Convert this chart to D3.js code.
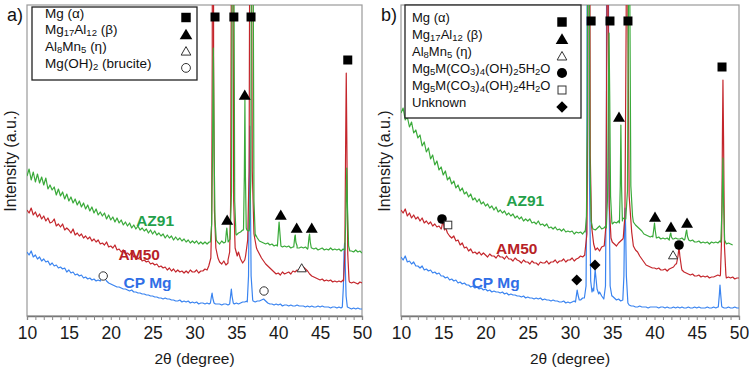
<!DOCTYPE html>
<html><head><meta charset="utf-8">
<script src="https://cdn.jsdelivr.net/npm/d3@7"></script>
<style>
body{margin:0;background:#fff}
text{font-family:"Liberation Sans",Arial,sans-serif}
</style>
</head><body>
<svg id="c" width="749" height="373"></svg>
<script>
// ---------------- DATA ----------------
const xTicks = d3.range(10, 51, 1);
const xTickLabels = [10, 15, 20, 25, 30, 35, 40, 45, 50];
const xStart = 10, xStep = 0.25;   // baseline sampling of the patterns (2θ)
const seriesNames = ["AZ91", "AM50", "CP Mg"];

// ---- panel a) baselines (intensity a.u., 2θ = 10..50 every 0.25) ----
const azA = [
140,147,136,144, 134,142,133,139, 131,138,127,131, 126,129,121,127, 120,124,117,122,
115,119,113,117, 111,115,109,113, 107,111,105,109, 103,107,101,104, 100,103,97,101,
96,99,94,98, 93,96,91,94, 90,93,88,91, 87,90,86,88, 85,87,83,86,
82,85,81,83, 80,82,78,81, 78,80,76,79, 76,78,75,77, 74,76,73,75,
73,75,72,74, 72,74,72,74, 76,80,77,74, 72,75,73,75, 74,77,81,83,
81,83,84,86, 88,86,85,87, 84,80,78,75, 74,73,72,73, 71,72,70,71,
70,71,69,70, 69,70,68,69, 69,70,68,69, 68,69,67,69, 68,67,68,66,
67,68,66,67, 66,68,66,67, 66,67,65,67, 66,68,66,65, 64,66,64,65, 63];
const amA = [
106,103,108,101, 104,99,102,97, 100,95,98,93, 94,97,90,92, 89,92,86,88,
86,83,87,81, 83,80,82,78, 80,77,79,75, 77,74,76,72, 73,71,74,69,
70,68,71,66, 67,64,66,62, 63,61,64,59, 60,57,59,55, 56,54,55,52,
53,51,52,49, 50,48,49,46, 48,45,47,44, 46,44,45,43, 45,43,46,44,
44,46,43,45, 45,47,46,50, 58,60,58,55, 54,52,55,51, 53,56,60,62,
60,64,57,53, 56,62,68,72, 76,69,66,62, 58,55,52,50, 48,46,44,42,
43,41,44,42, 43,44,42,45, 44,46,45,47, 49,47,45,42, 40,39,38,37,
36,37,35,36, 35,36,34,35, 34,35,34,36, 36,35,34,33, 34,33,32,34, 33];
const cpA = [
64,61,65,59, 61,57,59,55, 57,54,55,51, 53,50,51,48, 49,47,48,44,
46,43,44,41, 42,40,41,38, 39,37,38,36, 37,35,36,35, 40,38,35,33,
32,31,30,29, 29,28,27,27, 26,25,26,24, 24,23,23,22, 22,21,21,20,
20,19,19,18, 18,17,18,17, 17,16,16,15, 15,16,14,15, 14,15,13,14,
13,14,12,13, 13,12,13,12, 13,13,12,12, 12,11,12,12, 11,12,13,12,
13,12,13,14, 14,15,14,16, 15,14,15,15, 16,17,15,13, 12,12,11,12,
11,12,10,11, 11,10,11,10, 10,11,10,10, 10,9,10,9, 10,9,9,10,
9,10,9,9, 9,8,9,9, 8,9,8,8, 8,9,8,7, 8,7,8,7, 7];

// ---- panel a) diffraction peaks [2θ, intensity] ----
const azA_peaks = [
 [[31.9,74],[32.05,92],[32.15,160],[32.25,268],[32.35,160],[32.45,96],[32.6,76]],
 [[33.7,74],[33.8,84],[33.86,88],[33.92,82],[34.02,74]],
 [[34.25,78],[34.42,125],[34.52,420],[34.6,1400],[34.68,420],[34.8,115],[34.95,82]],
 [[35.85,86],[35.95,140],[36.02,216],[36.08,140],[36.18,88]],
 [[36.55,86],[36.72,135],[36.82,420],[36.9,1400],[36.98,420],[37.1,115],[37.25,82]],
 [[39.9,70],[40.03,86],[40.1,94],[40.18,85],[40.32,70]],
 [[41.85,69],[41.97,79],[42.03,81],[42.1,74],[42.25,68]],
 [[43.55,68],[43.67,79],[43.74,82],[43.82,74],[43.95,68]],
 [[47.95,66],[48.08,100],[48.18,148],[48.27,108],[48.4,70],[48.55,65]]
];
const amA_peaks = [
 [[31.7,50],[31.95,58],[32.05,95],[32.12,260],[32.2,1400],[32.28,260],[32.38,105],[32.55,68],[32.8,58]],
 [[34.0,56],[34.2,64],[34.32,115],[34.42,420],[34.5,1400],[34.58,420],[34.68,115],[34.85,68],[35.1,60]],
 [[36.1,60],[36.35,76],[36.52,145],[36.62,450],[36.7,1400],[36.78,450],[36.9,145],[37.1,82],[37.4,68]],
 [[47.8,35],[47.95,62],[48.04,165],[48.12,243],[48.2,165],[48.3,62],[48.45,36]]
];
const cpA_peaks = [
 [[31.9,13],[32.03,20],[32.1,23],[32.18,18],[32.33,13]],
 [[34.2,12],[34.33,22],[34.4,27],[34.48,20],[34.63,13]],
 [[36.3,14],[36.45,40],[36.53,125],[36.6,190],[36.67,125],[36.76,40],[36.95,16]],
 [[47.65,9],[47.78,30],[47.86,65],[47.92,73],[47.99,55],[48.1,20],[48.25,9]]
];

// ---- panel b) baselines ----
const azB = [
203,208,196,199, 189,194,183,186, 178,181,170,174, 164,168,157,161, 151,155,146,149,
141,145,136,139, 132,135,128,131, 125,128,122,124, 119,122,116,118, 114,117,112,114,
110,112,108,110, 106,109,104,106, 103,105,101,103, 100,102,98,100, 97,99,95,97,
95,97,93,94, 92,95,91,92, 90,92,88,89, 87,89,86,87, 85,87,84,85,
84,85,82,84, 83,84,82,85, 88,86,85,87, 86,88,90,87, 88,90,92,93,
92,94,93,95, 96,98,97,99, 100,97,94,91, 89,87,85,82, 81,80,79,80,
79,78,79,77, 78,77,78,76, 78,77,78,77, 77,78,76,77, 76,75,76,74,
74,75,73,74, 73,74,72,74, 73,74,73,75, 74,73,72,73, 72,71,null,null, null];
const amB = [
106,103,107,100, 103,98,101,97, 99,95,98,93, 95,92,94,90, 92,89,90,87,
86,89,83,80, 78,80,75,76, 71,73,68,69, 65,67,63,64, 62,64,61,63,
61,59,62,60, 60,58,61,59, 59,57,60,57, 57,55,58,56, 55,53,56,54,
54,52,55,53, 53,51,54,53, 53,55,52,54, 54,56,53,55, 55,57,54,56,
56,58,55,57, 58,60,59,61, 70,76,72,68, 66,68,65,69, 70,72,74,76,
74,72,70,73, 75,77,80,84, 82,76,70,66, 64,60,57,54, 51,50,49,48,
48,47,48,46, 46,47,45,47, 48,49,52,54, 50,46,44,43, 42,41,42,40,
40,41,39,40, 39,40,38,39, 39,40,41,40, 40,39,38,39, 38,39,37,38, 38];
const cpB = [
59,56,60,54, 55,52,54,50, 50,48,50,46, 47,45,46,43, 44,42,43,40,
40,38,39,36, 37,35,36,33, 34,32,33,31, 31,29,30,28, 29,27,28,26,
27,25,26,24, 25,24,24,23, 24,22,23,21, 22,21,21,20, 20,19,20,18,
19,18,18,17, 18,17,18,16, 17,16,16,15, 16,15,15,14, 14,15,13,14,
13,14,15,20, 17,16,18,22, 30,28,26,28, 40,30,24,20, 17,18,22,25,
20,18,16,17, 15,16,20,40, 11,10,10,9, 9,10,9,9, 9,8,9,9,
9,9,8,9, 9,8,9,8, 8,9,8,9, 8,9,8,8, 9,8,8,9,
8,9,8,8, 8,9,8,8, 9,8,9,10, 9,8,8,9, 8,8,9,8, 8];

// ---- panel b) diffraction peaks ----
const azB_peaks = [
 [[31.8,84],[31.95,100],[32.05,200],[32.12,500],[32.18,1400],[32.25,500],[32.35,160],[32.5,95],[32.7,87]],
 [[34.3,88],[34.45,120],[34.55,230],[34.62,283],[34.7,220],[34.8,120],[34.95,94]],
 [[35.85,93],[35.95,130],[36.02,191],[36.1,130],[36.2,95]],
 [[36.6,97],[36.8,125],[36.92,320],[37.0,1400],[37.08,320],[37.2,130],[37.4,100]],
 [[39.8,79],[39.93,88],[40.0,93],[40.08,86],[40.22,78]],
 [[41.75,77],[41.87,82],[41.93,83],[42.0,79],[42.15,77]],
 [[43.6,77],[43.74,84],[43.81,86],[43.89,80],[44.05,76]],
 [[47.85,74],[48.0,110],[48.1,158],[48.18,110],[48.3,76]]
];
const amB_peaks = [
 [[14.8,88],[14.93,94],[15.03,92],[15.15,86]],
 [[31.75,62],[32.0,82],[32.1,200],[32.17,600],[32.23,1400],[32.3,600],[32.4,160],[32.55,90],[32.8,72]],
 [[34.05,70],[34.25,90],[34.37,300],[34.45,1400],[34.53,300],[34.65,110],[34.85,78]],
 [[36.3,78],[36.5,100],[36.65,300],[36.75,1400],[36.85,300],[37.0,120],[37.3,84]],
 [[42.6,52],[42.78,60],[42.9,69],[43.0,60],[43.2,48]],
 [[47.8,41],[47.95,80],[48.04,180],[48.1,236],[48.17,180],[48.28,70],[48.45,41]]
];
const cpB_peaks = [
 [[30.65,14],[30.78,22],[30.85,26],[30.95,21],[31.1,16]],
 [[31.7,18],[31.9,30],[32.0,150],[32.07,600],[32.13,1400],[32.2,600],[32.3,140],[32.45,35],[32.6,24]],
 [[32.8,25],[32.92,40],[32.98,46],[33.05,40],[33.2,27],[33.4,22]],
 [[34.0,17],[34.2,30],[34.3,150],[34.37,600],[34.43,1400],[34.5,600],[34.6,140],[34.75,30],[34.95,20]],
 [[36.25,16],[36.38,40],[36.45,90],[36.52,108],[36.58,90],[36.67,40],[36.85,13]],
 [[47.55,9],[47.68,22],[47.75,31],[47.83,22],[47.95,10]]
];

// ---- phase markers [type, 2θ, intensity] ----
const markersA = [
 ["sq",32.45,299],["sq",34.7,299],["sq",36.75,299],["sq",48.3,256],
 ["tri",36.0,221],["tri",33.9,96],["tri",40.3,101],["tri",42.2,88],["tri",44.0,88],
 ["otri",42.8,48],["ocirc",19.1,40],["ocirc",38.3,25]
];
const markersB = [
 ["sq",32.5,295],["sq",34.73,295],["sq",36.86,295],["sq",47.99,249],
 ["tri",35.8,199],["tri",40.06,99],["tri",41.95,89],["tri",43.85,93],
 ["circ",14.85,97],["circ",42.9,71],["osq",15.56,91],["otri",42.2,61],
 ["dia",30.8,36],["dia",32.96,51]
];
// sample labels [name, 2θ, intensity]
const labelsA = [["AZ91",25.3,96],["AM50",23.4,62],["CP Mg",24.4,34]];
const labelsB = [["AZ91",24.7,116],["AM50",23.7,68],["CP Mg",21.2,34]];

const legendA = [["Mg (α)","sq"],["Mg_{17}Al_{12} (β)","tri"],["Al_{8}Mn_{5} (η)","otri"],["Mg(OH)_{2} (brucite)","ocirc"]];
const legendB = [["Mg (α)","sq"],["Mg_{17}Al_{12} (β)","tri"],["Al_{8}Mn_{5} (η)","otri"],
 ["Mg_{5}M(CO_{3})_{4}(OH)_{2}5H_{2}O","circ"],["Mg_{5}M(CO_{3})_{4}(OH)_{2}4H_{2}O","osq"],["Unknown","dia"]];

// ---------------- DRAWING ----------------
const colors = {"AZ91":"#3aaa3a","AM50":"#c4262c","CP Mg":"#3a84f0"};
const labelColors = {"AZ91":"#23a04a","AM50":"#b81f27","CP Mg":"#2f6ee6"};
const svg = d3.select("#c");

function buildSeries(base, peaks){
  const pts = [];
  base.forEach((v,i)=>{
    if (v == null) return;
    const x = xStart + i*xStep;
    if (peaks.some(p => x > p[0][0] && x < p[p.length-1][0])) return;
    pts.push([x, v]);
  });
  peaks.forEach(p => p.forEach(q => pts.push(q)));
  pts.sort((a,b)=>a[0]-b[0]);
  return pts;
}

function symbol(g, type, cx, cy, s){
  s = s || 1;
  if (type==="sq") g.append("rect").attr("x",cx-4.5*s).attr("y",cy-4.5*s).attr("width",9*s).attr("height",9*s).attr("fill","#000");
  else if (type==="tri") g.append("path").attr("d",`M${cx},${cy-5.4*s}L${cx+6*s},${cy+4.7*s}L${cx-6*s},${cy+4.7*s}Z`).attr("fill","#000");
  else if (type==="otri") g.append("path").attr("d",`M${cx},${cy-4.3*s}L${cx+4.6*s},${cy+3.8*s}L${cx-4.6*s},${cy+3.8*s}Z`).attr("fill","#fff").attr("stroke","#333").attr("stroke-width",1);
  else if (type==="ocirc") g.append("circle").attr("cx",cx).attr("cy",cy).attr("r",4.2*s).attr("fill","#fff").attr("stroke","#333").attr("stroke-width",1);
  else if (type==="circ") g.append("circle").attr("cx",cx).attr("cy",cy).attr("r",4.8*s).attr("fill","#000");
  else if (type==="osq") g.append("rect").attr("x",cx-3.8*s).attr("y",cy-3.8*s).attr("width",7.6*s).attr("height",7.6*s).attr("fill","#fff").attr("stroke","#333").attr("stroke-width",1);
  else if (type==="dia") g.append("path").attr("d",`M${cx},${cy-5.5*s}L${cx+5.5*s},${cy}L${cx},${cy+5.5*s}L${cx-5.5*s},${cy}Z`).attr("fill","#000");
}

function richText(t, str){
  const parts = str.split(/(_\{[^}]*\})/).filter(s=>s.length);
  let sub = false;
  parts.forEach(p=>{
    if (p.startsWith("_{")) {
      t.append("tspan").text(p.slice(2,-1)).attr("font-size","9.5px").attr("dy", sub? 0 : 2);
      sub = true;
    } else {
      t.append("tspan").text(p).attr("dy", sub? -2 : 0);
      sub = false;
    }
  });
}

function panel(id, box, series, markers, labels, legend, legBox, tag){
  const x = d3.scaleLinear().domain([10,50]).range([box.left, box.right]);
  const y = d3.scaleLinear().domain([0, box.bottom-box.top]).range([box.bottom, box.top]);
  const g = svg.append("g");
  g.append("clipPath").attr("id","clip"+id).append("rect")
    .attr("x",box.left).attr("y",box.top).attr("width",box.right-box.left).attr("height",box.bottom-box.top);
  g.append("rect").attr("x",box.left).attr("y",box.top).attr("width",box.right-box.left).attr("height",box.bottom-box.top)
    .attr("fill","none").attr("stroke","#9a9a9a").attr("stroke-width",1.2);
  const line = d3.line().x(d=>x(d[0])).y(d=>y(d[1]));
  const lg = g.append("g").attr("clip-path",`url(#clip${id})`);
  series.forEach(s=>{
    lg.append("path").attr("d", line(s.pts)).attr("fill","none")
      .attr("stroke", colors[s.name]).attr("stroke-width",1.2).attr("stroke-linejoin","round");
  });
  const ax = g.append("g").attr("transform",`translate(0,${box.bottom})`)
    .call(d3.axisBottom(x).tickValues(xTicks).tickSize(4).tickPadding(7)
      .tickFormat(d => xTickLabels.includes(d) ? d : ""));
  ax.select(".domain").attr("stroke","#777").attr("stroke-width",1.3);
  ax.selectAll(".tick line").attr("stroke","#888");
  ax.selectAll(".tick text").attr("font-size","17.5px").attr("fill","#1a1a1a")
    .attr("font-family",'"Liberation Sans",Arial,sans-serif');
  g.append("text").attr("x",(box.left+box.right)/2).attr("y",box.bottom+48)
    .attr("text-anchor","middle").attr("font-size","15.5px").attr("fill","#1a1a1a").text("2θ (degree)");
  g.append("text").attr("transform",`translate(${box.left-11},${161}) rotate(-90)`)
    .attr("text-anchor","middle").attr("font-size","16px").attr("fill","#1a1a1a").text("Intensity (a.u.)");
  g.append("text").attr("x",box.left-20).attr("y",21).attr("font-size","18px").attr("fill","#111").text(tag);
  markers.forEach(m => symbol(g, m[0], x(m[1]), y(m[2])));
  labels.forEach(l => g.append("text").attr("x",x(l[1])).attr("y",y(l[2])).attr("dy","0.36em")
    .attr("text-anchor","middle").attr("font-weight","bold").attr("font-size","15.5px")
    .attr("fill",labelColors[l[0]]).text(l[0]));
  g.append("rect").attr("x",legBox.x).attr("y",legBox.y).attr("width",legBox.w).attr("height",legBox.h)
    .attr("fill","#fff").attr("stroke","#222").attr("stroke-width",1.3);
  legend.forEach((it,i)=>{
    const cy = legBox.y0 + i*legBox.dy;
    const t = g.append("text").attr("x",legBox.tx).attr("y",cy).attr("dy","0.36em")
      .attr("font-size",legBox.fs).attr("fill","#111");
    richText(t, it[0]);
    symbol(g, it[1], legBox.sx, cy, 1.05);
  });
}

const seriesA = [
  {name:"CP Mg", pts: buildSeries(cpA, cpA_peaks)},
  {name:"AM50", pts: buildSeries(amA, amA_peaks)},
  {name:"AZ91", pts: buildSeries(azA, azA_peaks)}
];
const seriesB = [
  {name:"CP Mg", pts: buildSeries(cpB, cpB_peaks)},
  {name:"AM50", pts: buildSeries(amB, amB_peaks)},
  {name:"AZ91", pts: buildSeries(azB, azB_peaks)}
];

panel("a", {left:27,right:362,top:5,bottom:316}, seriesA, markersA, labelsA, legendA,
  {x:32,y:7,w:165,h:73,y0:17.5,dy:16.8,tx:45,sx:186,fs:"13.5px"}, "a)");
panel("b", {left:401,right:739,top:5,bottom:316}, seriesB, markersB, labelsB, legendB,
  {x:405,y:5,w:176,h:113,y0:22,dy:17,tx:412,sx:562,fs:"13px"}, "b)");
</script>
</body></html>
